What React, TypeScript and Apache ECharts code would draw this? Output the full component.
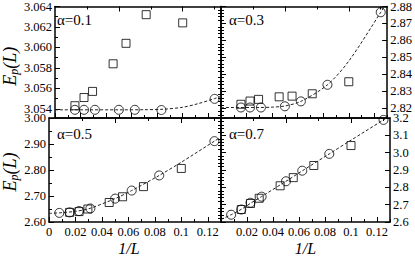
import React, { useEffect, useRef } from "react";
import * as echarts from "echarts";

// ---------- data ----------
const xCircTop = [0.0156, 0.0227, 0.03125, 0.05, 0.0625, 0.0833, 0.125];
const xCircBot = [0.0078, 0.0156, 0.0227, 0.03125, 0.05, 0.0625, 0.0833, 0.125];
const xSquares = [0.0156, 0.0227, 0.0294, 0.0455, 0.0556, 0.0714, 0.1];

const circ01 = [3.0539, 3.0539, 3.0539, 3.0539, 3.0539, 3.05388, 3.05497];
const sq01 = [3.0543, 3.0551, 3.0557, 3.0584, 3.0604, 3.0632, 3.0624];
const fitX01 = [0, 0.05, 0.07, 0.085, 0.1, 0.112, 0.125, 0.135];
const fit01 = [3.0539, 3.0539, 3.05391, 3.05396, 3.05415, 3.0545, 3.055, 3.05545];

const circ03 = [2.8204, 2.8204, 2.8204, 2.8211, 2.824, 2.8338, 2.8766];
const sq03 = [2.8223, 2.8242, 2.8252, 2.8267, 2.8271, 2.8285, 2.8356];
const fitX03 = [0, 0.03, 0.04, 0.05, 0.0625, 0.0833, 0.1, 0.125, 0.13];
const fit03 = [2.8204, 2.8204, 2.8206, 2.8213, 2.824, 2.8338, 2.8478, 2.8766, 2.883];

const circ05 = [2.635, 2.637, 2.642, 2.652, 2.69, 2.721, 2.779, 2.911];
const sq05 = [2.637, 2.64, 2.65, 2.675, 2.697, 2.736, 2.806];
const fitX05 = [0, 0.01, 0.02, 0.03, 0.05, 0.0625, 0.0833, 0.1, 0.125, 0.135];
const fit05 = [2.633, 2.636, 2.641, 2.651, 2.69, 2.721, 2.779, 2.83, 2.911, 2.945];

const circ07 = [2.642, 2.672, 2.711, 2.746, 2.835, 2.896, 2.993, 3.189];
const sq07 = [2.672, 2.707, 2.737, 2.809, 2.856, 2.926, 3.041];
const fitX07 = [0, 0.0078, 0.0156, 0.0227, 0.03125, 0.05, 0.0625, 0.0833, 0.1, 0.125, 0.135];
const fit07 = [2.615, 2.642, 2.673, 2.708, 2.747, 2.835, 2.895, 2.993, 3.072, 3.189, 3.236];

const alphaLabels = ["α=0.1", "α=0.3", "α=0.5", "α=0.7"];

// tick values
const xTickMajor = [0, 0.02, 0.04, 0.06, 0.08, 0.1, 0.12];
const xTickMinor = [0.01, 0.03, 0.05, 0.07, 0.09, 0.11, 0.13];
const xTopMajor = [0.05, 0.1];
const xTopMinor = [0.025, 0.075, 0.125];

const yMajor01 = [3.054, 3.056, 3.058, 3.06, 3.062, 3.064];
const yMinor01 = [3.055, 3.057, 3.059, 3.061, 3.063];
const yMajor03 = [2.82, 2.83, 2.84, 2.85, 2.86, 2.87, 2.88];
const yMinor03 = [2.816, 2.818, 2.822, 2.824, 2.826, 2.828, 2.832, 2.834, 2.836, 2.838, 2.842, 2.844, 2.846, 2.848, 2.852, 2.854, 2.856, 2.858, 2.862, 2.864, 2.866, 2.868, 2.872, 2.874, 2.876, 2.878];
const yMajor05 = [2.6, 2.7, 2.8, 2.9, 3.0];
const yMinor05 = [2.65, 2.75, 2.85, 2.95];
const yMajor07 = [2.6, 2.7, 2.8, 2.9, 3.0, 3.1, 3.2];
const yMinor07 = [2.62, 2.64, 2.66, 2.68, 2.72, 2.74, 2.76, 2.78, 2.82, 2.84, 2.86, 2.88, 2.92, 2.94, 2.96, 2.98, 3.02, 3.04, 3.06, 3.08, 3.12, 3.14, 3.16, 3.18];

// ---------- layout ----------
const SERIF = '"Liberation Serif", "Times New Roman", serif';
const panels = [
  { left: 49, top: 4, width: 172, height: 114, xMax: 0.13, yMin: 3.0531, yMax: 3.064, major: yMajor01, minor: yMinor01, digits: 3, right: false, bottom: false, xc: xCircTop, c: circ01, s: sq01, fx: fitX01, f: fit01, namePad: [0, 8, 0, 0], xNamePad: [0, 0, 0, 0] },
  { left: 221, top: 4, width: 169, height: 114, xMax: 0.13, yMin: 2.8142, yMax: 2.88, major: yMajor03, minor: yMinor03, digits: 2, right: true, bottom: false, xc: xCircTop, c: circ03, s: sq03, fx: fitX03, f: fit03, namePad: [0, 0, 0, 0], xNamePad: [0, 0, 0, 0] },
  { left: 49, top: 118, width: 172, height: 114, xMax: 0.13, yMin: 2.6, yMax: 3.0, major: yMajor05, minor: yMinor05, digits: 2, right: false, bottom: true, xc: xCircBot, c: circ05, s: sq05, fx: fitX05, f: fit05, namePad: [0, 4, 0, 0], xNamePad: [0, 12, 0, 0] },
  { left: 221, top: 118, width: 169, height: 114, xMax: 0.13, yMin: 2.6, yMax: 3.2, major: yMajor07, minor: yMinor07, digits: 1, right: true, bottom: true, xc: xCircBot, c: circ07, s: sq07, fx: fitX07, f: fit07, namePad: [0, 0, 0, 0], xNamePad: [0, 0, 0, 0] },
];

const pair = (xs: number[], ys: number[]) => xs.map((x, i) => [x, ys[i]]);

const lineStyle = { color: "#000", width: 1.5 };
const tickStyle = { color: "#000", width: 1 };
const labelStyle = { fontFamily: SERIF, fontSize: 12.5, color: "#000" };

function buildOption() {
  const grid: any[] = [];
  const xAxis: any[] = [];
  const yAxis: any[] = [];
  const series: any[] = [];
  const graphic: any[] = [];

  panels.forEach((p, g) => {
    grid.push({ left: p.left, top: p.top, width: p.width, height: p.height });
    const xb = {
      gridIndex: g, type: "value", min: 0, max: p.xMax,
      axisLine: { show: true, onZero: false, lineStyle },
      splitLine: { show: false },
    };
    // bottom major
    xAxis.push({
      ...xb, position: "bottom",
      axisTick: { show: true, inside: true, length: 5, customValues: xTickMajor, lineStyle: tickStyle },
      axisLabel: {
        show: p.bottom, customValues: xTickMajor, margin: 3, ...labelStyle,
        formatter: (v: number) => (p.right && v === 0 ? "" : String(v)),
      },
      name: p.bottom ? "1/L" : "", nameLocation: "middle", nameGap: 18,
      nameTextStyle: { fontFamily: SERIF, fontStyle: "italic", fontSize: 16, color: "#000", padding: p.xNamePad },
    });
    // bottom minor
    xAxis.push({
      ...xb, position: "bottom", axisLine: { show: false },
      axisTick: { show: true, inside: true, length: 3, customValues: xTickMinor, lineStyle: tickStyle },
      axisLabel: { show: false },
    });
    // top major
    xAxis.push({
      ...xb, position: "top",
      axisTick: { show: true, inside: true, length: 5, customValues: xTopMajor, lineStyle: tickStyle },
      axisLabel: { show: false },
    });
    // top minor
    xAxis.push({
      ...xb, position: "top", axisLine: { show: false },
      axisTick: { show: true, inside: true, length: 3, customValues: xTopMinor, lineStyle: tickStyle },
      axisLabel: { show: false },
    });

    const yb = {
      gridIndex: g, type: "value", min: p.yMin, max: p.yMax,
      axisLine: { show: true, onZero: false, lineStyle },
      splitLine: { show: false },
    };
    const labelSide = p.right ? "right" : "left";
    const otherSide = p.right ? "left" : "right";
    yAxis.push({
      ...yb, position: labelSide,
      axisTick: { show: true, inside: true, length: 5, customValues: p.major, lineStyle: tickStyle },
      axisLabel: {
        show: true, customValues: p.major, margin: 3, ...labelStyle,
        formatter: (v: number) => v.toFixed(p.digits),
      },
      name: p.right ? "" : "{e|E}{p|p}{e|(L)}", nameLocation: "middle", nameGap: 25,
      nameTextStyle: {
        padding: p.namePad,
        rich: {
          e: { fontFamily: SERIF, fontStyle: "italic", fontSize: 18, color: "#000", lineHeight: 20 },
          p: { fontFamily: SERIF, fontStyle: "italic", fontSize: 12, color: "#000", lineHeight: 10, verticalAlign: "bottom" },
        },
      },
    });
    yAxis.push({
      ...yb, position: labelSide, axisLine: { show: false },
      axisTick: { show: true, inside: true, length: 3, customValues: p.minor, lineStyle: tickStyle },
      axisLabel: { show: false },
    });
    yAxis.push({
      ...yb, position: otherSide,
      axisTick: { show: p.right, inside: true, length: 5, customValues: p.major, lineStyle: tickStyle },
      axisLabel: { show: false },
    });
    yAxis.push({
      ...yb, position: otherSide, axisLine: { show: false },
      axisTick: { show: p.right, inside: true, length: 3, customValues: p.minor, lineStyle: tickStyle },
      axisLabel: { show: false },
    });

    const xi = 4 * g;
    const yi = 4 * g;
    series.push({
      type: "line", xAxisIndex: xi, yAxisIndex: yi, data: pair(p.fx, p.f),
      symbol: "none", smooth: 0.3, silent: true, clip: true,
      lineStyle: { color: "#222", width: 1, type: [3, 2] },
    });
    series.push({
      type: "scatter", xAxisIndex: xi, yAxisIndex: yi, data: pair(p.xc, p.c),
      symbol: "circle", symbolSize: 9, silent: true,
      itemStyle: { color: "rgba(0,0,0,0)", borderColor: "#000", borderWidth: 1 },
    });
    series.push({
      type: "scatter", xAxisIndex: xi, yAxisIndex: yi, data: pair(xSquares, p.s),
      symbol: "rect", symbolSize: 8, silent: true,
      itemStyle: { color: "rgba(0,0,0,0)", borderColor: "#000", borderWidth: 1 },
    });

    graphic.push({
      type: "text", left: p.left + 8, top: p.top + 8,
      style: { text: alphaLabels[g], font: `15px ${SERIF}`, fill: "#000" },
    });
  });

  return { animation: false, backgroundColor: "#fff", grid, xAxis, yAxis, series, graphic };
}

export default function App() {
  const ref = useRef<HTMLDivElement>(null);
  useEffect(() => {
    const chart = echarts.init(ref.current!, null, { renderer: "svg" });
    chart.setOption(buildOption() as any);
    return () => chart.dispose();
  }, []);
  return (
    <div
      ref={ref}
      style={{ position: "fixed", left: 0, top: 0, width: 415, height: 257, background: "#fff" }}
    />
  );
}
